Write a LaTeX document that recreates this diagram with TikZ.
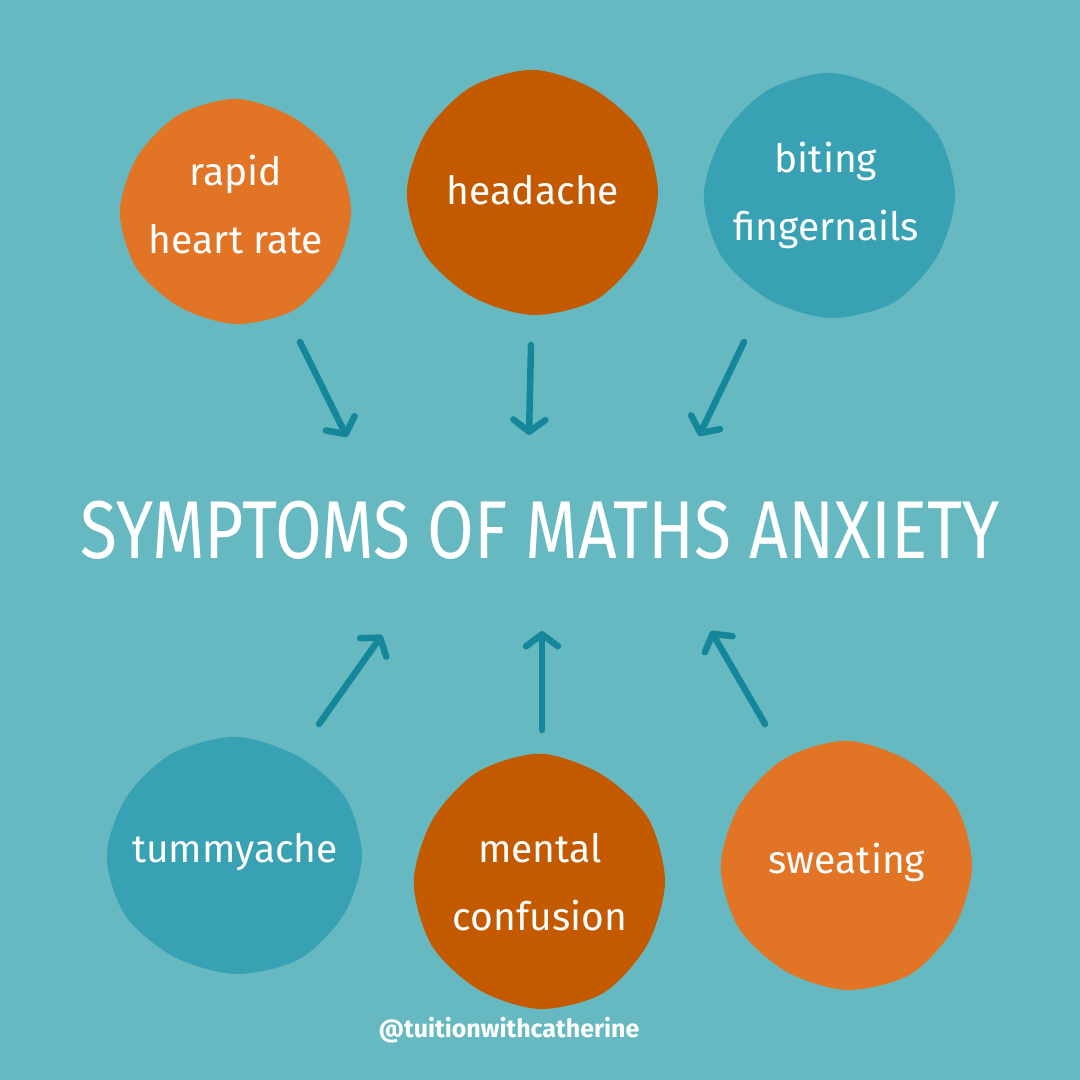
\documentclass[tikz,border=0pt]{standalone}
\usepackage{fontspec}
\setmainfont{Fira Sans}
\usetikzlibrary{arrows.meta}
\definecolor{bg}{HTML}{66B9C0}
\definecolor{orangeA}{HTML}{E17425}
\definecolor{orangeB}{HTML}{C45A00}
\definecolor{tealA}{HTML}{38A1B4}
\definecolor{arrowc}{HTML}{15879B}
\tikzset{
  lbl/.style={text=white, align=center, font=\fontsize{39}{68}\selectfont},
  conn/.style={draw=arrowc, line width=6.5pt, line cap=round, -{Straight Barb[length=12pt, width=32pt, line cap=round, line join=round]}},
}
% blob: center x, center y, rx, ry, colour
\newcommand{\myblob}[5]{%
  \fill[#5] plot[smooth cycle] coordinates {
    ({#1+#3*1.00*cos(0)},{#2+#4*1.00*sin(0)})
    ({#1+#3*0.99*cos(30)},{#2+#4*0.99*sin(30)})
    ({#1+#3*1.01*cos(60)},{#2+#4*1.01*sin(60)})
    ({#1+#3*1.00*cos(90)},{#2+#4*1.00*sin(90)})
    ({#1+#3*0.98*cos(120)},{#2+#4*0.98*sin(120)})
    ({#1+#3*1.00*cos(150)},{#2+#4*1.00*sin(150)})
    ({#1+#3*1.01*cos(180)},{#2+#4*1.01*sin(180)})
    ({#1+#3*0.99*cos(210)},{#2+#4*0.99*sin(210)})
    ({#1+#3*1.00*cos(240)},{#2+#4*1.00*sin(240)})
    ({#1+#3*1.01*cos(270)},{#2+#4*1.01*sin(270)})
    ({#1+#3*0.98*cos(300)},{#2+#4*0.98*sin(300)})
    ({#1+#3*1.00*cos(330)},{#2+#4*1.00*sin(330)})
  };}
\begin{document}
\begin{tikzpicture}[x=1pt,y=-1pt]
\fill[bg] (0,0) rectangle (1080,1080);
\useasboundingbox (0,0) rectangle (1080,1080);
% blobs
\myblob{236}{212}{115}{112}{orangeA}
\myblob{533}{193}{125}{122}{orangeB}
\myblob{830}{196}{125}{122}{tealA}
\myblob{235}{856}{127}{118}{tealA}
\myblob{540}{882}{125}{127}{orangeB}
\myblob{847}{866}{125}{124}{orangeA}
% labels
\node[lbl] (heart) at (236,205) {rapid\\heart rate};
\node[lbl] (head) at (533,190) {headache};
\node[lbl] (bite) at (826,195) {biting\\fingernails};
\node[lbl] (tummy) at (235,852) {tummyache};
\node[lbl] (mental) at (540,882) {mental\\confusion};
\node[lbl] (sweat) at (847,862) {sweating};
\node[text=white, font=\fontsize{82}{82}\selectfont] (title) at (540,530) {\scalebox{0.825}[1]{SYMPTOMS OF MATHS ANXIETY}};
\node[text=white, font=\fontsize{25}{25}\selectfont\bfseries] (handle) at (509,1030) {@tuitionwithcatherine};
% arrow ends
\coordinate (a1s) at (300,342); \coordinate (a1e) at (347,437);
\coordinate (a2s) at (531,345); \coordinate (a2e) at (529,435);
\coordinate (a3s) at (744,342); \coordinate (a3e) at (699,436);
\coordinate (b1s) at (319,724); \coordinate (b1e) at (382,635);
\coordinate (b2s) at (542,730); \coordinate (b2e) at (542,631);
\coordinate (b3s) at (765,724); \coordinate (b3e) at (711,631);
\draw[conn] (a1s) -- (a1e);
\draw[conn] (a2s) -- (a2e);
\draw[conn] (a3s) -- (a3e);
\draw[conn] (b1s) -- (b1e);
\draw[conn] (b2s) -- (b2e);
\draw[conn] (b3s) -- (b3e);
\end{tikzpicture}
\end{document}
